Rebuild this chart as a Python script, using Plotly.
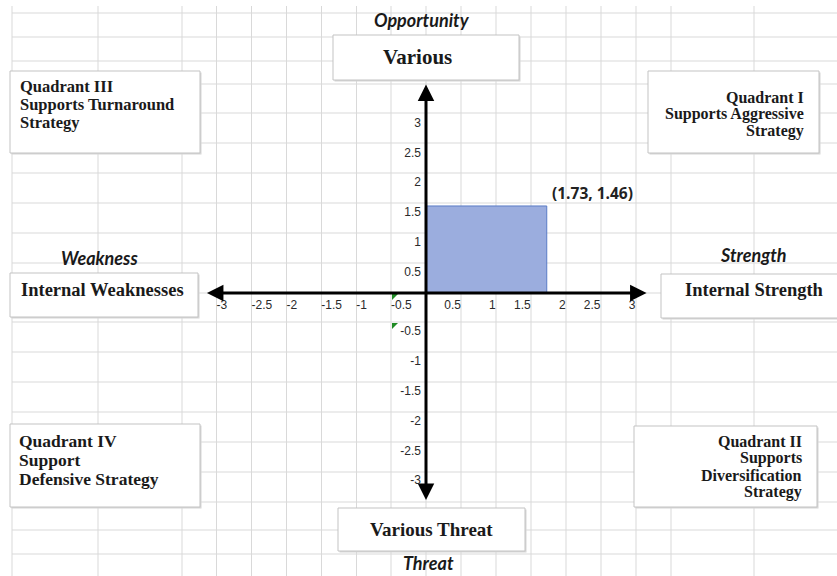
import plotly.graph_objects as go

# ---------------- data ----------------
point_x = 1.73
point_y = 1.46
point_label = "(1.73, 1.46)"

x_ticks_pos = [0.5, 1, 1.5, 2, 2.5, 3]
x_ticks_neg = [-3, -2.5, -2, -1.5, -1, -0.5]
y_ticks = [3, 2.5, 2, 1.5, 1, 0.5, -0.5, -1, -1.5, -2, -2.5, -3]

def fmt(v):
    return ("%g" % v)

x_labels_pos = [fmt(v) for v in x_ticks_pos]
x_labels_neg = [fmt(v) for v in x_ticks_neg]
y_labels = [fmt(v) for v in y_ticks]

axis_names = {"top": "Opportunity", "left": "Weakness", "right": "Strength", "bottom": "Threat"}
box_various = "Various"
box_threat = "Various Threat"
box_weak = "Internal Weaknesses"
box_strength = "Internal Strength"
q1_lines = ["Quadrant I", "Supports Aggressive", "Strategy"]
q2_lines = ["Quadrant II", "Supports", "Diversification", "Strategy"]
q3_lines = ["Quadrant III", "Supports Turnaround", "Strategy"]
q4_lines = ["Quadrant IV", "Support", "Defensive Strategy"]

# ---------------- layout helpers ----------------
W, H = 837, 576
ORX, ORY = 426, 293          # origin in pixels
SX, SY = 69.8, 59.6          # pixels per unit
x_range = [(0 - ORX) / SX, (W - ORX) / SX]
y_range = [-(H - ORY) / SY, ORY / SY]
ARROW_X = 3.16
ARROW_Y = 3.5

def fx(p):
    return p / W

def fy(p):
    return 1 - p / H

GRID = "#d9d9d9"
V_GRID = [12, 98, 182, 216.5, 251.5, 286.5, 321.5, 356.5, 391, 426, 461, 496,
          531, 566, 601, 636, 671, 754]
H_GRID = [13, 37, 61, 84, 113, 143, 173, 203, 233, 263, 293, 322, 352, 382,
          412, 442, 472, 502, 530, 554]

shapes = []
for v in V_GRID:
    shapes.append(dict(type="line", xref="paper", yref="paper", x0=fx(v), x1=fx(v),
                       y0=fy(6), y1=fy(H), line=dict(color=GRID, width=1), layer="below"))
for h in H_GRID:
    shapes.append(dict(type="line", xref="paper", yref="paper", x0=fx(12), x1=fx(W),
                       y0=fy(h), y1=fy(h), line=dict(color=GRID, width=1), layer="below"))

def box(x0, y0, x1, y1):
    shapes.append(dict(type="rect", xref="paper", yref="paper", x0=fx(x0 + 1.5), x1=fx(x1 + 1.5),
                       y0=fy(y0 + 1.5), y1=fy(y1 + 1.5), line=dict(width=0),
                       fillcolor="#d6d6d6", layer="below"))
    shapes.append(dict(type="rect", xref="paper", yref="paper", x0=fx(x0), x1=fx(x1),
                       y0=fy(y0), y1=fy(y1), line=dict(color="#c3c3c3", width=1),
                       fillcolor="white", layer="below"))

box(333, 35, 519, 80)        # Various
box(10, 71, 200, 153)        # Q3
box(648, 71, 819, 153)       # Q1
box(10, 273, 198, 317)       # Internal Weaknesses
box(661, 274, 845, 318)      # Internal Strength
box(10, 424, 200, 507)       # Q4
box(634, 426, 817, 507)      # Q2
box(338, 508, 525, 551)      # Various Threat

# little green error markers of the sheet
for (tx, ty) in [(392, 294), (392, 323)]:
    path = "M %f %f L %f %f L %f %f Z" % (fx(tx), fy(ty), fx(tx + 6), fy(ty), fx(tx), fy(ty + 6))
    shapes.append(dict(type="path", xref="paper", yref="paper", path=path,
                       fillcolor="#1f8b24", line=dict(width=0), layer="above"))

SERIF = "Liberation Serif"
SANS_IT = "Lato"

annotations = []

def txt(text, x, y, size, family, xanchor="center", yanchor="middle",
        italic=False, bold=True, color="#1a1a1a"):
    t = text
    if bold:
        t = "<b>" + t + "</b>"
    if italic:
        t = "<i>" + t + "</i>"
    annotations.append(dict(text=t, xref="paper", yref="paper", x=fx(x), y=fy(y),
                            xanchor=xanchor, yanchor=yanchor, showarrow=False,
                            font=dict(family=family, size=size, color=color)))

def lines(items, x, ys, size, xanchor):
    for s, yy in zip(items, ys):
        txt(s, x, yy, size, SERIF, xanchor=xanchor)

txt(axis_names["top"], 422, 20, 18, SANS_IT, italic=True)
txt(axis_names["left"], 99, 258, 18, SANS_IT, italic=True)
txt(axis_names["right"], 753, 255, 18, SANS_IT, italic=True)
txt(axis_names["bottom"], 429, 563, 18, SANS_IT, italic=True)

txt(box_various, 417, 57, 21, SERIF)
txt(box_threat, 431, 529, 19, SERIF)
txt(box_weak, 102, 290, 18.5, SERIF)
txt(box_strength, 754, 290, 18.5, SERIF)

lines(q3_lines, 18, [87, 105, 123], 16.5, "left")
lines(q1_lines, 806, [97, 114, 131], 16, "right")
lines(q4_lines, 17, [441, 460, 479], 17.5, "left")
lines(q2_lines, 804, [441, 458, 475, 492], 16, "right")

# data label of the point
annotations.append(dict(text="<b>" + point_label + "</b>", x=point_x, y=point_y, xref="x", yref="y",
                        xanchor="left", yanchor="bottom", xshift=3, yshift=0, showarrow=False,
                        font=dict(family="Open Sans", size=15.5, color="#222222")))

# axis arrows
for (hx, hy) in [(ARROW_X, 0), (0, ARROW_Y)]:
    annotations.append(dict(x=hx, y=hy, ax=-hx, ay=-hy, xref="x", yref="y", axref="x", ayref="y",
                            text="", showarrow=True, arrowhead=2, startarrowhead=2,
                            arrowside="end+start", arrowwidth=3, arrowsize=1.1,
                            startarrowsize=1.1, arrowcolor="black"))

fig = go.Figure()
fig.add_trace(go.Bar(x=[0], y=[point_y], width=[point_x], offset=0, base=0,
                     marker=dict(color="#9badde", line=dict(color="#5a7bc6", width=1)),
                     hoverinfo="skip", showlegend=False))
# carrier trace so that the axis holding the negative x tick labels is drawn
fig.add_trace(go.Scatter(x=x_ticks_neg, y=[None] * len(x_ticks_neg), xaxis="x2", yaxis="y",
                         mode="lines", hoverinfo="skip", showlegend=False))

tickfont = dict(family="Liberation Sans", size=12, color="#2a2a2a")
common = dict(showgrid=False, zeroline=False, showline=False, ticks="", tickmode="array",
              tickfont=tickfont, fixedrange=True)
fig.update_layout(
    width=W, height=H,
    margin=dict(l=0, r=0, t=0, b=0),
    paper_bgcolor="white", plot_bgcolor="white",
    showlegend=False,
    shapes=shapes, annotations=annotations,
    xaxis=dict(domain=[0, 1], range=x_range, anchor="free", position=fy(ORY),
               tickvals=x_ticks_pos, ticktext=x_labels_pos, ticklabelstandoff=3,
               ticklabelposition="outside left", **common),
    xaxis2=dict(domain=[0, 1], range=x_range, overlaying="x", anchor="free", position=fy(ORY),
                side="bottom", tickvals=x_ticks_neg, ticktext=x_labels_neg, ticklabelstandoff=3,
                ticklabelposition="outside right", **common),
    yaxis=dict(domain=[0, 1], range=y_range, anchor="free", position=fx(ORX), side="left",
               tickvals=y_ticks, ticktext=y_labels, ticklabelstandoff=5,
               ticklabelposition="outside bottom", **common),
)

fig.write_html("out.html", config={"displayModeBar": False},
               post_script="document.body.style.margin='0px';")
